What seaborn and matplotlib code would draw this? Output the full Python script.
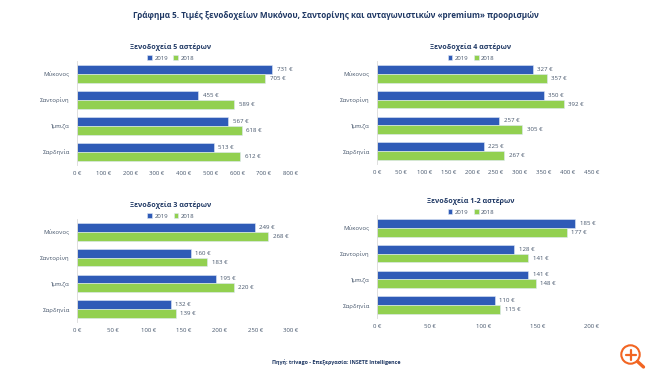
import matplotlib
matplotlib.use('Agg')
import matplotlib.pyplot as plt
from matplotlib.patches import Circle
from matplotlib.lines import Line2D
import seaborn as sns
import pandas as pd

destinations = ['Μύκονος', 'Σαντορίνη', 'Ίμπιζα', 'Σαρδηνία']
years = ['2019', '2018']

stars5_2019 = [731, 455, 567, 513]
stars5_2018 = [705, 589, 618, 612]
stars4_2019 = [327, 350, 257, 225]
stars4_2018 = [357, 392, 305, 267]
stars3_2019 = [249, 160, 195, 132]
stars3_2018 = [268, 183, 220, 139]
stars12_2019 = [185, 128, 141, 110]
stars12_2018 = [177, 141, 148, 115]

ticks5 = [0, 100, 200, 300, 400, 500, 600, 700, 800]
ticks4 = [0, 50, 100, 150, 200, 250, 300, 350, 400, 450]
ticks3 = [0, 50, 100, 150, 200, 250, 300]
ticks12 = [0, 50, 100, 150, 200]

main_title = 'Γράφημα 5. Τιμές ξενοδοχείων Μυκόνου, Σαντορίνης και ανταγωνιστικών «premium» προορισμών'
source_text = 'Πηγή: trivago - Επεξεργασία: INSETE Intelligence'

BLUE = '#2f5bb7'
GREEN = '#92d050'
NAVY = '#1f3864'
GREY = '#44546a'
W, H = 650, 373

sns.set_style('white')
plt.rcParams['font.family'] = ['Open Sans', 'DejaVu Sans']


def drawPanel(fig, box, title, v2019, v2018, ticks):
    left, top, right, bottom = box
    ax = fig.add_axes([left/W, 1-bottom/H, (right-left)/W, (bottom-top)/H])
    df = pd.DataFrame({
        'dest': destinations*2,
        'year': [years[0]]*4 + [years[1]]*4,
        'price': v2019 + v2018,
    })
    sns.barplot(data=df, y='dest', x='price', hue='year', hue_order=years, orient='h',
                palette=[BLUE, GREEN], saturation=1, width=0.68, gap=0,
                edgecolor='#dfe8f5', linewidth=0.4, ax=ax)
    for c in ax.containers:
        ax.bar_label(c, fmt='%d €', padding=3.2, fontsize=4.4, color=GREY)

    ax.set_xlim(ticks[0], ticks[-1])
    ax.set_xticks(ticks)
    ax.set_xticklabels(['{} €'.format(t) for t in ticks])
    ax.set_xlabel('')
    ax.set_ylabel('')
    ax.tick_params(axis='x', length=0, pad=4.5, labelsize=4.3, labelcolor=GREY)
    ax.tick_params(axis='y', length=0, pad=5, labelsize=4.3, labelcolor=GREY)
    for s in ['top', 'right', 'bottom']:
        ax.spines[s].set_visible(False)
    ax.spines['left'].set_color('#d9d9d9')
    ax.spines['left'].set_linewidth(0.6)
    ax.patch.set_alpha(0)

    cx = (left+right)/2 - 13
    fig.text(cx/W, 1-(top-13.5)/H, title, ha='center', va='center', fontsize=5.1,
             fontweight='bold', color=NAVY)
    ax.legend(loc='center', bbox_to_anchor=((cx-left)/(right-left), 1+3/(bottom-top)),
              ncol=2, frameon=False, fontsize=4.3, handlelength=0.8, handleheight=0.8,
              handletextpad=0.4, columnspacing=0.9, borderpad=0, labelcolor=GREY)
    return ax


fig = plt.figure(figsize=(W/100, H/100), dpi=100, facecolor='white')

fig.text(336/W, 1-15/H, main_title, ha='center', va='center', fontsize=5.9,
         fontweight='bold', color=NAVY)

drawPanel(fig, (76.7, 61, 290.7, 165), 'Ξενοδοχεία 5 αστέρων', stars5_2019, stars5_2018, ticks5)
drawPanel(fig, (376.7, 61, 591.4, 164), 'Ξενοδοχεία 4 αστέρων', stars4_2019, stars4_2018, ticks4)
drawPanel(fig, (76.7, 219, 291, 322), 'Ξενοδοχεία 3 αστέρων', stars3_2019, stars3_2018, ticks3)
drawPanel(fig, (376.7, 215, 591.4, 318), 'Ξενοδοχεία 1-2 αστέρων', stars12_2019, stars12_2018, ticks12)

fig.text(336/W, 1-362.5/H, source_text, ha='center', va='center', fontsize=3.85,
         fontweight='bold', color=NAVY)

# magnifier icon, bottom right corner
ORANGE = '#f26522'
icon = fig.add_axes([0, 0, 1, 1], facecolor='none')
icon.set_xlim(0, W)
icon.set_ylim(H, 0)
icon.axis('off')
icon.add_patch(Circle((630.5, 354.5), 9.2, fill=False, edgecolor=ORANGE, linewidth=1.5))
icon.add_line(Line2D([637.5, 643.5], [361.5, 367], color=ORANGE, linewidth=2.4, solid_capstyle='round'))
icon.add_line(Line2D([625.5, 635.5], [354.5, 354.5], color=ORANGE, linewidth=1.6))
icon.add_line(Line2D([630.5, 630.5], [349.5, 359.5], color=ORANGE, linewidth=1.6))

fig.savefig('out.png', dpi=100)
